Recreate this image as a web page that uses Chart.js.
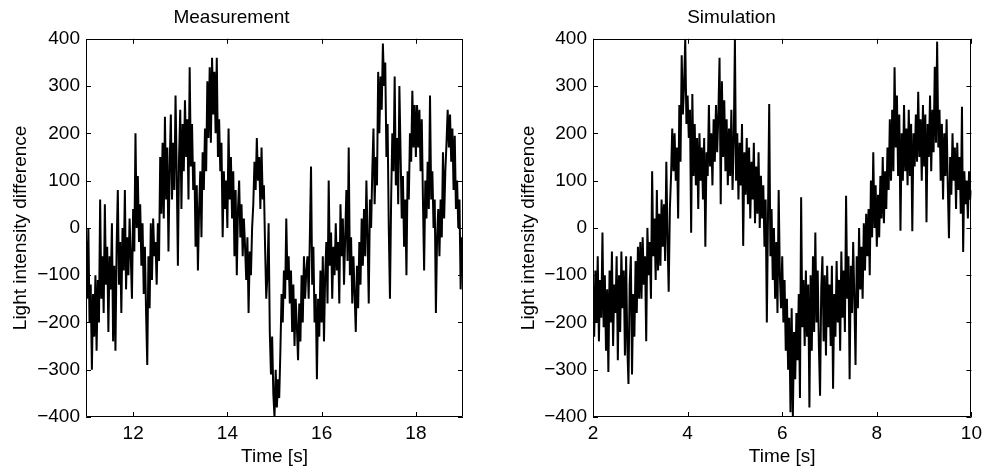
<!DOCTYPE html>
<html>
<head>
<meta charset="utf-8">
<script src="https://cdn.jsdelivr.net/npm/chart.js@4/dist/chart.umd.min.js"></script>
<style>
  html, body { margin: 0; padding: 0; background: #fff; }
  .panel { position: absolute; top: 0; height: 472px; }
  #left { left: 0; width: 490px; }
  #right { left: 490px; width: 497px; }
</style>
</head>
<body>
<div class="panel" id="left"><canvas id="measChart"></canvas></div>
<div class="panel" id="right"><canvas id="simChart"></canvas></div>
<script>
// サンプリング (s)
const measStart = 11, measStep = 0.025;
const simStart = 2, simStep = 0.025;

// Measurement 11 s - 19 s
const measValues = [
  -20, -150, 0, -200, -120, -300, -140, -230, -100, -260, -110, -200, 60, -150, -60, -180, 50, -120, -40, -220,
  -60, -130, 10, -240, -80, -260, -40, 80, -120, -30, -180, 0, -90, 80, -130, -20, -100, 20, -60, -150,
  40, -50, 200, 0, 110, -30, 50, -80, 10, -140, -40, -180, -290, -60, -170, 10, -110, 20, -60, -30,
  -120, 10, -70, 150, 30, 180, 20, 235, 60, 170, -50, 130, 240, 60, 180, 80, 280, 120, -80, 150,
  250, 40, 220, 120, 270, 150, 230, 60, 340, 130, 220, 80, 140, -40, 90, -90, 40, 120, -20, 160,
  80, 210, 120, 310, 190, 340, 180, 360, 240, 330, 200, 360, 150, 230, 120, 180, -20, 120, 40, 100,
  0, 210, 60, 150, 20, 120, -60, 80, -100, 40, 100, -20, 50, -60, 20, -40, -110, -20, -180, -50,
  -100, 0, 50, 140, 80, 190, 100, 150, 40, 170, 60, 90, -40, -150, -100, 10, -220, -310, -230, -350,
  -400, -300, -380, -320, -360, -260, -140, -200, -90, -150, 20, -110, -60, -160, -90, -220, -120, -250, -150, -210,
  -280, -160, -240, -100, -200, -60, -150, -90, -60, -150, -20, 130, -120, -40, -200, -140, -320, -150, -230, -90,
  -200, -60, -240, -100, -30, -160, 100, -80, -10, -150, -40, -100, 10, -90, -30, -160, 50, -60, 20, -120,
  -20, 80, -70, 170, -100, -20, -160, -60, -140, -220, -80, -170, -30, -120, 20, -80, 40, -60, 100, -20,
  -160, 60, 0, 120, 210, 50, 150, 90, 330, 200, 320, 250, 390, 300, 350, 150, 220, 0, -150, 60,
  200, 120, 320, 90, 190, 50, 300, 160, 20, 110, -40, 60, -100, 120, 60, 200, 140, 290, 170, 260,
  150, 260, 170, 250, 120, 230, 60, -90, 100, 20, 140, 40, 280, 60, 120, 0, 60, -180, -20, 40,
  -60, 60, -20, 160, 20, 120, 180, 250, 170, 240, 140, 210, 80, 195, 40, 100, 0, 60, -130, -20,
  -100
];

// Simulation 2 s - 10 s
const simValues = [
  -120, -230, -90, -200, -60, -240, -110, -190, -10, -210, -100, -260, -130, -305, -90, -200, -50, -250, -120, -180,
  -60, -280, -100, -220, -50, -170, -90, -270, -60, -250, -330, -120, -60, -310, -140, -230, -70, -180, -40, -150,
  -30, -150, -20, -120, -60, -240, 0, -100, -30, -150, 120, -60, 20, -110, 80, -90, 30, -80, 60, -40,
  50, -70, 140, -20, -135, 40, 110, 210, 120, 200, 100, 170, 20, 260, 140, 365, 240, 300, 400, 220,
  280, 190, 250, -10, 283, 110, 220, 90, 190, 40, 200, 100, 170, 60, 190, -40, 160, 110, 260, 130,
  200, 90, 230, 140, 260, 160, 240, 360, 50, 310, 150, 270, 120, 230, 90, 210, 110, 250, 80, 180,
  400, 100, 200, 60, 180, 90, 220, -38, 160, 70, 190, 50, 170, 20, 140, 60, 180, 10, 130, 30,
  160, 0, 110, 20, 90, -40, 60, -200, 30, 262, -60, 40, -110, 0, -150, -30, -180, 80, -100, -170,
  -60, -200, -110, -260, -150, -300, -190, -390, -170, -400, -220, -320, -180, -280, -140, -360, 65, -210, -110, -250,
  -90, -230, -120, -380, -100, -260, -60, -220, -10, -200, -90, -250, -355, -130, -60, -240, -100, -270, -80, -210,
  -120, -250, -80, -340, -140, -230, -70, -200, -110, -260, -50, -190, -90, -220, 68, -150, -60, -320, -80, -180,
  -30, -150, -290, -60, -170, 0, -130, -40, -150, 10, -90, 30, -60, 40, -100, 100, -20, 160, 0, 90,
  -40, 70, -20, 110, 20, 150, 10, 120, 40, 170, 80, 230, 100, 250, 120, 340, 170, 280, 110, 240,
  -6, 200, 100, 260, 120, 210, 90, 250, 110, 220, -7, 200, 130, 240, 140, 288, 150, 230, 100, 260,
  130, 240, 12, 220, 150, 280, 120, 250, 160, 341, 180, 394, 170, 250, 100, 220, 60, 200, 110, 230,
  90, -22, 150, 70, 200, 100, 170, 40, 180, 80, 150, 30, 256, -51, 120, 50, 100, 20, 120, 60,
  80
];

const measTicks = [12, 14, 16, 18];
const simTicks = [2, 4, 6, 8, 10];
const yTicks = [-400, -300, -200, -100, 0, 100, 200, 300, 400];

const FONT = "'Liberation Sans', Arial, Helvetica, sans-serif";
Chart.defaults.font.family = FONT;
Chart.defaults.font.size = 19;
Chart.defaults.color = '#000';

// 枠と内向きの目盛り
const framePlugin = {
  id: 'frame',
  afterDatasetsDraw(chart) {
    const {ctx, chartArea: a, scales: {x, y}} = chart;
    const len = 5;
    ctx.save();
    ctx.strokeStyle = '#000';
    ctx.lineWidth = 1;
    ctx.beginPath();
    x.ticks.forEach(t => {
      const px = Math.round(x.getPixelForValue(t.value)) + 0.5;
      ctx.moveTo(px, a.bottom); ctx.lineTo(px, a.bottom - len);
      ctx.moveTo(px, a.top); ctx.lineTo(px, a.top + len);
    });
    y.ticks.forEach(t => {
      const py = Math.round(y.getPixelForValue(t.value)) + 0.5;
      ctx.moveTo(a.left, py); ctx.lineTo(a.left + len, py);
      ctx.moveTo(a.right, py); ctx.lineTo(a.right - len, py);
    });
    ctx.rect(Math.round(a.left) + 0.5, Math.round(a.top) + 0.5,
             Math.round(a.width) - 1, Math.round(a.height) - 1);
    ctx.stroke();
    ctx.restore();
  }
};

function makeChart(id, title, start, step, values, xMin, xMax, xTicks, yAxisWidth, titlePad, rightPad) {
  const points = values.map((v, i) => ({x: +(start + i * step).toFixed(3), y: v}));
  return new Chart(document.getElementById(id), {
    type: 'line',
    data: {
      datasets: [{
        data: points,
        borderColor: '#000',
        borderWidth: 2,
        pointRadius: 0,
        tension: 0,
        fill: false
      }]
    },
    options: {
      responsive: true,
      maintainAspectRatio: false,
      animation: false,
      events: [],
      layout: { padding: { left: 0, right: rightPad, top: 0, bottom: 0 } },
      plugins: {
        legend: { display: false },
        tooltip: { enabled: false },
        title: {
          display: true,
          text: title,
          font: { family: FONT, size: 19, weight: 'normal' },
          color: '#000',
          padding: { top: 6, bottom: 10 }
        }
      },
      scales: {
        x: {
          type: 'linear',
          min: xMin,
          max: xMax,
          grid: { display: false, drawTicks: false },
          border: { display: false },
          afterBuildTicks: s => { s.ticks = xTicks.map(v => ({value: v})); },
          afterFit: s => { s.height = 55; },
          ticks: { padding: 5, maxRotation: 0, color: '#000', font: { family: FONT, size: 19 } },
          title: {
            display: true, text: 'Time [s]', color: '#000',
            font: { family: FONT, size: 19 },
            padding: { top: 0, bottom: 4 }
          }
        },
        y: {
          type: 'linear',
          min: -400,
          max: 400,
          grid: { display: false, drawTicks: false },
          border: { display: false },
          afterBuildTicks: s => { s.ticks = yTicks.map(v => ({value: v})); },
          afterFit: s => { s.width = yAxisWidth; },
          ticks: {
            padding: 6,
            color: '#000',
            font: { family: FONT, size: 19 },
            callback: v => v < 0 ? '\u2212' + Math.abs(v) : String(v)
          },
          title: {
            display: true, text: 'Light intensity difference', color: '#000',
            font: { family: FONT, size: 19 },
            padding: { top: titlePad, bottom: 0 }
          }
        }
      }
    },
    plugins: [framePlugin]
  });
}

makeChart('measChart', 'Measurement', measStart, measStep, measValues, 11, 19, measTicks, 86, 9, 27);
makeChart('simChart', 'Simulation', simStart, simStep, simValues, 2, 10, simTicks, 103, 27, 14);
</script>
</body>
</html>
